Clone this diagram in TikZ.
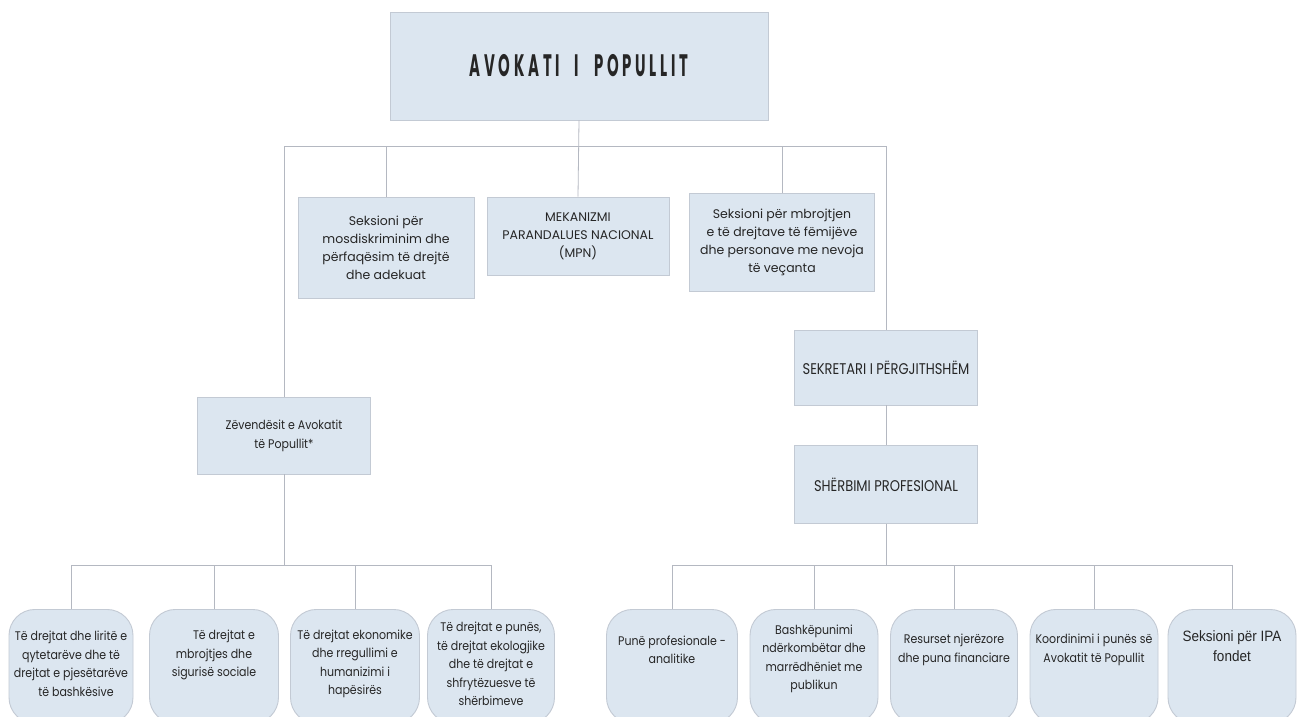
\documentclass[tikz,border=0pt]{standalone}
\usepackage{fontspec}
\setmainfont{Poppins}
\newfontfamily\titlefont{Poppins}[FakeStretch=0.48,LetterSpace=12]
\newfontfamily\capsfont{Poppins}[FakeStretch=0.84]
\newfontfamily\narrowfont{Poppins}[FakeStretch=0.88]
\newfontfamily\ipafont{Liberation Sans}[FakeStretch=0.9]
\definecolor{boxfill}{HTML}{DCE6F0}
\definecolor{boxline}{HTML}{C3CAD4}
\definecolor{connc}{HTML}{B4B8C1}
\definecolor{txt}{HTML}{262626}
\tikzset{
  rect/.style={draw=boxline, fill=boxfill, line width=0.9pt, inner sep=0pt, align=center,
    text=txt, font=\fontsize{12.5}{18}\selectfont},
  rbox/.style={draw=boxline, fill=boxfill, line width=0.9pt, rounded corners=26pt,
    minimum height=114pt, inner sep=0pt},
  lbl/.style={align=center, inner sep=0pt, text=txt, font=\narrowfont\fontsize{12.5}{18.5}\selectfont},
  conn/.style={draw=connc, line width=0.8pt},
}
\begin{document}
\begin{tikzpicture}[x=1pt,y=-1pt]
\useasboundingbox (0,0) rectangle (1307,717);
\clip (0,0) rectangle (1307,717);
\fill[white] (0,0) rectangle (1307,717);

% upper level
\node[rect, minimum width=378pt, minimum height=108pt] (top) at (579,66)
  {\titlefont\bfseries\fontsize{31}{31}\selectfont AVOKATI\hspace{15pt}I\hspace{15pt}POPULLIT};
\node[rect, minimum width=176pt, minimum height=101pt] (s1) at (386,247.5)
  {Seksioni për\\mosdiskriminim dhe\\përfaqësim të drejtë\\dhe adekuat};
\node[rect, minimum width=182pt, minimum height=78pt] (mpn) at (578,236)
  {MEKANIZMI\\PARANDALUES NACIONAL\\(MPN)};
\node[rect, minimum width=185pt, minimum height=98pt] (s3) at (782,242)
  {Seksioni për mbrojtjen\\e të drejtave të fëmijëve\\dhe personave me nevoja\\të veçanta};
\node[rect, minimum width=173pt, minimum height=77pt, font=\narrowfont\fontsize{12.5}{19}\selectfont] (zev) at (284,435.5)
  {Zëvendësit e Avokatit\\të Popullit*};
\node[rect, minimum width=183pt, minimum height=75pt] (sek) at (886,367.5)
  {\capsfont\fontsize{15.5}{18}\selectfont SEKRETARI I PËRGJITHSHËM};
\node[rect, minimum width=183pt, minimum height=78pt] (sherb) at (886,484.5)
  {\capsfont\fontsize{15.5}{18}\selectfont SHËRBIMI PROFESIONAL};

% bottom left boxes
\node[rbox, minimum width=124pt, anchor=north] (b1) at (71,609) {};
\node[rbox, minimum width=129pt, anchor=north] (b2) at (214,609) {};
\node[rbox, minimum width=129pt, anchor=north] (b3) at (355,609) {};
\node[rbox, minimum width=127pt, anchor=north] (b4) at (491,609) {};
\node[lbl] (b1t) at (b1.north |- 0,664) {Të drejtat dhe liritë e\\qytetarëve dhe të\\drejtat e pjesëtarëve\\\hspace*{10pt}të bashkësive};
\node[lbl] (b2t) at (b2.north |- 0,655) {\hspace*{20pt}Të drejtat e\\mbrojtjes dhe\\sigurisë sociale};
\node[lbl] (b3t) at (b3.north |- 0,664) {Të drejtat ekonomike\\dhe rregullimi e\\humanizimi i\\hapësirës};
\node[lbl] (b4t) at (b4.north |- 0,664) {Të drejtat e punës,\\të drejtat ekologjike\\dhe të drejtat e\\shfrytëzuesve të\\shërbimeve};

% bottom right boxes
\node[rbox, minimum width=131pt, anchor=north] (r1) at (672,609) {};
\node[rbox, minimum width=128pt, anchor=north] (r2) at (814,609) {};
\node[rbox, minimum width=127pt, anchor=north] (r3) at (954,609) {};
\node[rbox, minimum width=128pt, anchor=north] (r4) at (1094,609) {};
\node[rbox, minimum width=128pt, anchor=north] (r5) at (1232,609) {};
\node[lbl] (r1t) at (r1.north |- 0,650) {Punë profesionale -\\analitike};
\node[lbl] (r2t) at (r2.north |- 0,659) {Bashkëpunimi\\ndërkombëtar dhe\\marrëdhëniet me\\publikun};
\node[lbl] (r3t) at (r3.north |- 0,650) {Resurset njerëzore\\dhe puna financiare};
\node[lbl] (r4t) at (r4.north |- 0,650) {Koordinimi i punës së\\Avokatit të Popullit};
\node[lbl, font=\ipafont\fontsize{15}{20}\selectfont] (r5t) at (r5.north |- 0,646) {Seksioni për IPA\\fondet};

% bus coordinates
\coordinate (busA) at (0,146);
\coordinate (busL) at (0,565);
\coordinate (busR) at (0,565);

% connectors: top level
\draw[conn] (top.south) -- (mpn.north);
\draw[conn] (zev.north |- busA) -- (sek.north |- busA);
\draw[conn] (zev.north) -- (zev.north |- busA);
\draw[conn] (s1.north) -- (s1.north |- busA);
\draw[conn] (s3.north) -- (s3.north |- busA);
\draw[conn] (sek.north) -- (sek.north |- busA);
\draw[conn] (sek.south) -- (sherb.north);

% connectors: left group
\draw[conn] (zev.south) -- (zev.south |- busL);
\draw[conn] (b1.north |- busL) -- (b4.north |- busL);
\foreach \n in {b1,b2,b3,b4} \draw[conn] (\n.north) -- (\n.north |- busL);

% connectors: right group
\draw[conn] (sherb.south) -- (sherb.south |- busR);
\draw[conn] (r1.north |- busR) -- (r5.north |- busR);
\foreach \n in {r1,r2,r3,r4,r5} \draw[conn] (\n.north) -- (\n.north |- busR);
\end{tikzpicture}
\end{document}
